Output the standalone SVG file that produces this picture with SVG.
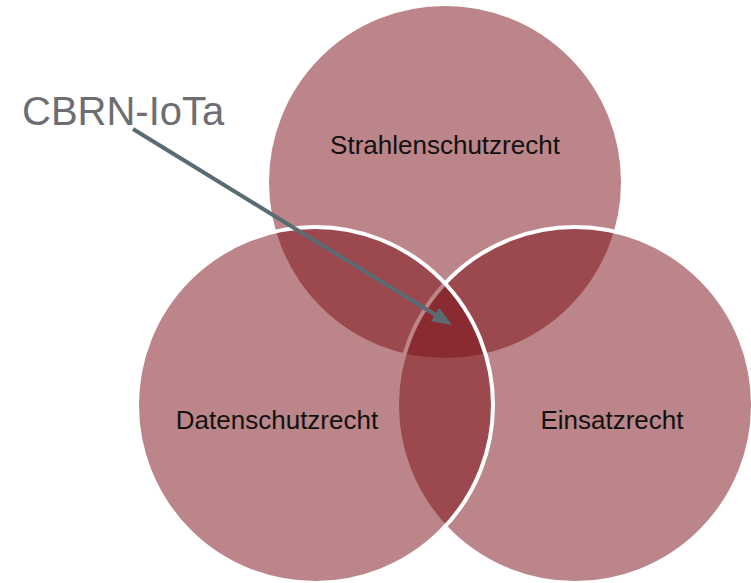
<svg xmlns="http://www.w3.org/2000/svg" width="751" height="583" viewBox="0 0 751 583">
<style>
.c{fill:#790B13;fill-opacity:0.5;stroke:#ffffff;stroke-width:4}
.t{font-family:"Liberation Sans",Arial,sans-serif;font-size:26px;fill:#111111;text-anchor:middle}
.lbl{font-family:"Liberation Sans",Arial,sans-serif;font-size:40px;fill:#6e6e72}
.arr{fill:none;stroke:#5b6b73;stroke-width:4}
</style>
<defs>
<marker id="ah" viewBox="0 0 20 16" refX="8" refY="8" markerWidth="20" markerHeight="16" markerUnits="userSpaceOnUse" orient="auto">
<path d="M0,0 L20,8 L0,16 z" fill="#5b6b73"/>
</marker>
</defs>
<rect width="751" height="583" fill="#ffffff"/>
<g id="strahlenschutzrecht">
<circle class="c" cx="445" cy="182" r="178"/>
<text class="t" x="445" y="154">Strahlenschutzrecht</text>
</g>
<g id="einsatzrecht">
<circle class="c" cx="575" cy="405" r="178"/>
<text class="t" x="612" y="429">Einsatzrecht</text>
</g>
<g id="datenschutzrecht">
<circle class="c" cx="315" cy="405" r="178"/>
<text class="t" x="277" y="429">Datenschutzrecht</text>
</g>
<g id="cbrn-iota">
<text class="lbl" x="22" y="125">CBRN-IoTa</text>
</g>
<g id="connectors">
<path class="arr" d="M133,129 L441.8,318.7" marker-end="url(#ah)"/>
</g>
</svg>
